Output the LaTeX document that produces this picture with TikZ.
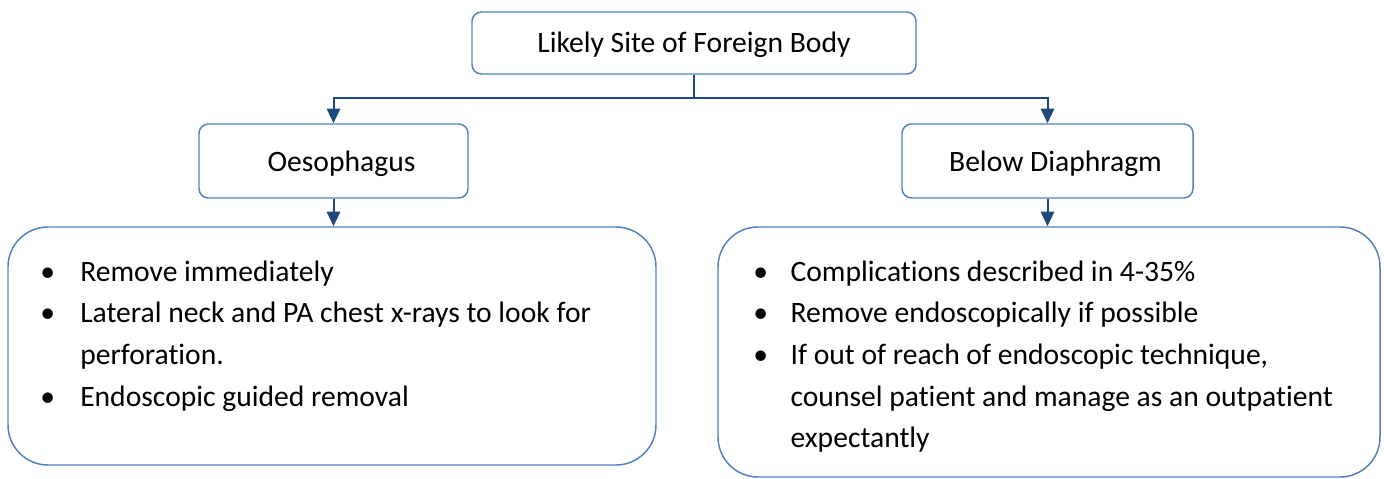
\documentclass[tikz,border=0pt]{standalone}
\usepackage{fontspec}
\setmainfont{Carlito}[Ligatures = NoCommon]
\usetikzlibrary{arrows.meta}

\definecolor{boxline}{HTML}{4F81BD}
\definecolor{linkline}{HTML}{1F497D}

\begin{document}
\begin{tikzpicture}[x = 0.75pt, y = -0.75pt, > = {Triangle[length = 11pt, width = 10pt]}, font = \fontsize{22.2}{31.2}\selectfont,
	site/.style = {draw = boxline, line width = 1.1pt, rounded corners = 7pt, inner sep = 0pt, text height = 20pt, text depth = 5pt},
	notes/.style = {draw = boxline, line width = 1.1pt, rounded corners = 30pt, inner sep = 0pt},
	link/.style = {draw = linkline, line width = 1.5pt}]

\useasboundingbox (0, 0) rectangle (1384, 478);

% sites
\node (site) [site, minimum width = 333pt, minimum height = 46.5pt] at (694, 43) {Likely Site of Foreign Body};
\node (oes) [site, minimum width = 201.75pt, minimum height = 55.5pt] at (333.5, 161) {\hspace*{12pt}Oesophagus};
\node (below) [site, minimum width = 218.25pt, minimum height = 55.5pt] at (1047.5, 161) {\hspace*{12pt}Below Diaphragm};

% notes
\node (oesnotes) [notes, minimum width = 486pt, minimum height = 178.5pt] at (332, 346) {};
\node (belownotes) [notes, minimum width = 496.5pt, minimum height = 187.5pt] at (1049, 352) {};

\node (oestext) [anchor = north west, inner sep = 0pt] at (40, 252) {%
	\begin{tabular}{@{}p{30pt}@{}l@{}}
	• & Remove immediately\\
	• & Lateral neck and PA chest x-rays to look for\\
	  & perforation.\\
	• & Endoscopic guided removal
	\end{tabular}};

\node (belowtext) [anchor = north west, inner sep = 0pt] at (753, 252) {%
	\begin{tabular}{@{}p{28pt}@{}l@{}}
	• & Complications described in 4-35\%\\
	• & Remove endoscopically if possible\\
	• & If out of reach of endoscopic technique,\\
	  & counsel patient and manage as an outpatient\\
	  & expectantly
	\end{tabular}};

% links
\draw [link, ->] (site.south) -- ++(0, 23) -| (oes.north);
\draw [link, ->] (site.south) -- ++(0, 23) -| (below.north);
\draw [link, ->] (oes.south) -- (oes.south |- oesnotes.north);
\draw [link, ->] (below.south) -- (below.south |- belownotes.north);

\end{tikzpicture}
\end{document}
